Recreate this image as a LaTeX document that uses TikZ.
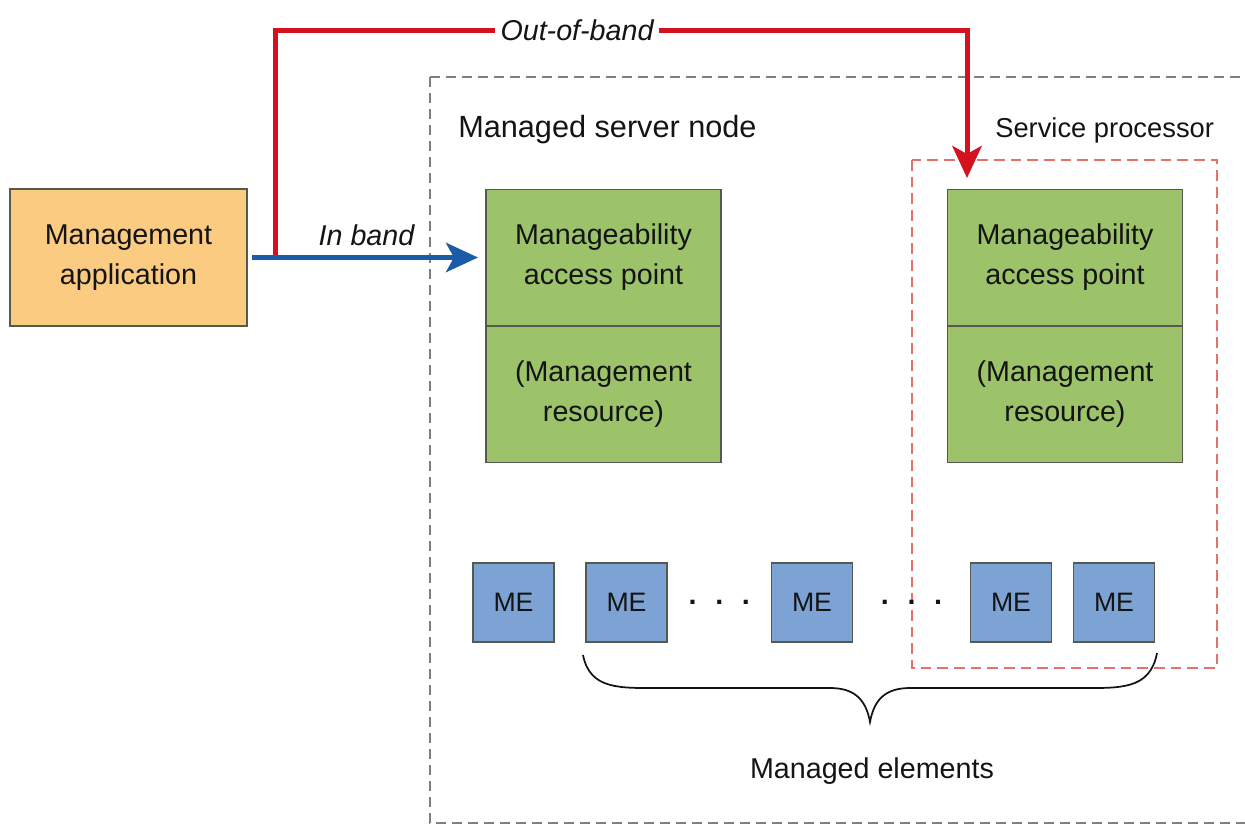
\documentclass[tikz,border=0pt]{standalone}
\usepackage{fontspec}
\setmainfont{Liberation Sans}
\usetikzlibrary{arrows.meta,positioning}

\definecolor{textDark}{RGB}{20,20,20}
\definecolor{boxEdge}{RGB}{85,90,80}
\definecolor{appOrange}{RGB}{250,203,128}
\definecolor{mapGreen}{RGB}{157,195,106}
\definecolor{meBlue}{RGB}{124,163,212}
\definecolor{bandBlue}{RGB}{26,92,168}
\definecolor{bandRed}{RGB}{210,18,31}
\definecolor{hullGray}{RGB}{128,128,128}
\definecolor{spRed}{RGB}{229,112,108}

\begin{document}
\begin{tikzpicture}[x=0.75pt,y=0.75pt,yscale=-1,xscale=1,
  txt/.style={font=\fontsize{21.5}{30}\selectfont, text=textDark},
  box/.style={draw=boxEdge, line width=1pt, outer sep=0pt, inner sep=0pt, align=center, txt},
  appbox/.style={box, fill=appOrange, minimum width=177.75pt, minimum height=102.75pt},
  mapbox/.style={box, fill=mapGreen, minimum width=176.25pt, minimum height=102.5pt},
  mebox/.style={box, fill=meBlue, minimum width=60.75pt, minimum height=59.25pt, font=\fontsize{20}{24}\selectfont},
  grouphull/.style={draw=hullGray, line width=1.6pt, dash pattern=on 7.5pt off 4.5pt},
  sphull/.style={draw=spRed, line width=1.9pt, dash pattern=on 8pt off 4.5pt},
  inband/.style={draw=bandBlue, line width=3.75pt, shorten <=4pt, shorten >=6pt, -{Stealth[length=24pt,width=22pt,inset=6pt]}},
  outband/.style={draw=bandRed, line width=3.75pt},
]
\path[use as bounding box, clip] (0,0) rectangle (1245,825);

%Dashed hulls
\draw[grouphull] (430,77) rectangle (1265,823);
\draw[sphull] (912,160) rectangle (1217,668);

% Text Node
\node[txt, font=\fontsize{23}{28}\selectfont, anchor=base west, inner sep=0pt] (serverlbl) at (458,137) {Managed server node};
% Text Node
\node[txt, font=\fontsize{20.5}{28}\selectfont, anchor=base west, inner sep=0pt] (splbl) at (995,137) {Service processor};

%Boxes
\node[appbox] (app) at (128.5,257.5) {Management\\application};
\node[mapbox] (mapA) at (603.5,257.5) {Manageability\\access point};
\node[mapbox, below=0pt of mapA] (resA) {(Management\\resource)};
\node[mapbox] (mapB) at (1065,257.5) {Manageability\\access point};
\node[mapbox, below=0pt of mapB] (resB) {(Management\\resource)};

%Managed elements
\foreach \name/\x in {meA/513.5, meB/626.5, meC/812, meD/1011, meE/1114}
  \node[mebox] (\name) at (\x,602.5) {ME};
\path (meB) -- (meC) node[midway, txt] (gapA) {\textbf{.\hspace{14pt}.\hspace{14pt}.}};
\path (meC) -- (meD) node[midway, txt] (gapB) {\textbf{.\hspace{14pt}.\hspace{14pt}.}};

%Brace
\draw[line width=1.3pt, textDark] (583,655) .. controls (590,690) and (620,688) .. (660,688) -- (830,688) .. controls (855,688) and (866,700) .. (870,722) .. controls (874,700) and (885,688) .. (910,688) -- (1080,688) .. controls (1120,688) and (1150,690) .. (1157,653);
% Text Node
\node[txt, anchor=base] (melbl) at (872,778) {Managed elements};

%Out-of-band path
\coordinate (split) at (275,257.5);
\coordinate (spIn) at (967,178);
\node[txt, font=\fontsize{21.5}{30}\selectfont\itshape, fill=white, inner sep=4pt] (oob) at (577,30) {Out-of-band};
\draw[outband] (split) |- (oob);
\draw[outband, -{Stealth[length=24pt,width=22pt,inset=6pt]}] (oob) -| (spIn);

%In band arrow
\draw[inband] (app) -- (mapA) node[midway, above=5pt, txt, font=\fontsize{21.5}{30}\selectfont\itshape, inner sep=2pt] (iblbl) {In band};

\end{tikzpicture}
\end{document}
